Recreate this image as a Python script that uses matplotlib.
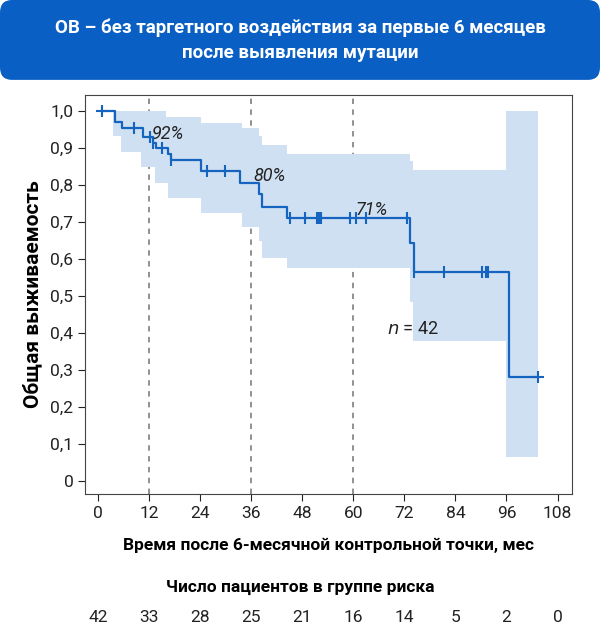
import matplotlib
matplotlib.use("Agg")
import matplotlib.pyplot as plt
from matplotlib.patches import FancyBboxPatch
import numpy as np

plt.rcParams['font.family'] = ['Roboto', 'DejaVu Sans']

step_t = [1, 4, 5.6, 10.6, 12.9, 13.6, 16.4, 17, 24.2, 33.4, 37.9, 38.6, 44.4, 73.4, 74.2, 96.7, 103.5]
step_s = [1.0, 0.97, 0.955, 0.93, 0.914, 0.90, 0.884, 0.868, 0.838, 0.806, 0.776, 0.742, 0.71, 0.644, 0.564, 0.28, 0.28]
cens_t = [8.5, 12.2, 13.0, 15.0, 17.0, 25.6, 29.9, 45.0, 48.7, 51.4, 51.9, 52.4, 59.3, 60.6, 63.0, 72.5, 74.2, 81.3, 90.3, 91.2, 91.6]
band_t = [3.5, 5.4, 10.1, 13.4, 16.0, 16.3, 24.2, 33.7, 37.9, 38.6, 44.4, 73.4, 74.1, 96.0, 103.5]
band_hi = [1.0, 1.0, 1.0, 1.0, 0.983, 0.983, 0.967, 0.955, 0.933, 0.908, 0.884, 0.865, 0.84, 1.0, 1.0]
band_lo = [0.933, 0.889, 0.848, 0.806, 0.806, 0.766, 0.725, 0.687, 0.65, 0.604, 0.575, 0.485, 0.379, 0.065, 0.065]
marks = [12, 36, 60]
mark_labels = ["92%", "80%", "71%"]
mark_y = [0.925, 0.81, 0.72]
risk_t = [0, 12, 24, 36, 48, 60, 72, 84, 96, 108]
risk_n = [42, 33, 28, 25, 21, 16, 14, 5, 2, 0]

blue = '#1565c0'
fig = plt.figure(figsize=(6, 6.29), dpi=100)
tb = FancyBboxPatch((0.0, 0.873), 1.0, 0.127, boxstyle="round,pad=0,rounding_size=0.02",
                    transform=fig.transFigure, facecolor='#0a5fc4', edgecolor='none')
fig.patches.append(tb)
fig.text(0.5, 0.936, "ОВ – без таргетного воздействия за первые 6 месяцев\nпосле выявления мутации",
         ha='center', va='center', color='white', fontsize=13.5, fontweight='bold', linespacing=1.5)

ax = fig.add_axes([0.142, 0.2146, 0.812, 0.634])
ax.fill_between(band_t, band_lo, band_hi, step='post', color='#cfe0f2', lw=0)
ax.step(step_t, step_s, where='post', color=blue, lw=1.6)
for t in cens_t:
    s = np.array(step_s)[np.searchsorted(step_t, t, side='right') - 1]
    ax.plot([t], [s], marker='|', ms=9, mew=1.5, color=blue)
ax.plot([1], [1.0], marker='+', ms=9, mew=1.5, color=blue)
ax.plot([103.5], [0.28], marker='+', ms=9, mew=1.5, color=blue)
for m in marks:
    ax.axvline(m, color='#888888', ls=(0, (3, 3)), lw=1.3, zorder=0.5)
for m, l, y in zip(marks, mark_labels, mark_y):
    ax.text(m + 0.6, y, l, fontsize=13, style='italic', color='#222222')
ax.text(68, 0.41, "$\\it{n}$ = 42", fontsize=13, color='#222222', va='center')

ax.set_xlim(-3.06, 111.5)
ax.set_ylim(-0.035, 1.043)
ax.set_xticks(risk_t)
yt = np.round(np.arange(0, 1.01, 0.1), 1)
ax.set_yticks(yt)
ax.set_yticklabels([("%.1f" % v).replace('.', ',') if v > 0 else '0' for v in yt])
ax.tick_params(labelsize=12.5, colors='#222222', length=5)
for s in ax.spines.values():
    s.set_color('#444444')
ax.set_ylabel("Общая выживаемость", fontsize=15, fontweight='bold', labelpad=6)
ax.set_xlabel("Время после 6-месячной контрольной точки, мес", fontsize=12.5, fontweight='bold', labelpad=12)

fig.text(0.5, 0.066, "Число пациентов в группе риска", ha='center', va='center', fontsize=12.5, fontweight='bold')
for t, n in zip(risk_t, risk_n):
    x = 0.142 + (t + 3.06) / (111.5 + 3.06) * 0.812
    fig.text(x, 0.018, str(n), ha='center', va='center', fontsize=12.5, color='#222222')

fig.savefig("out.png", dpi=100)
